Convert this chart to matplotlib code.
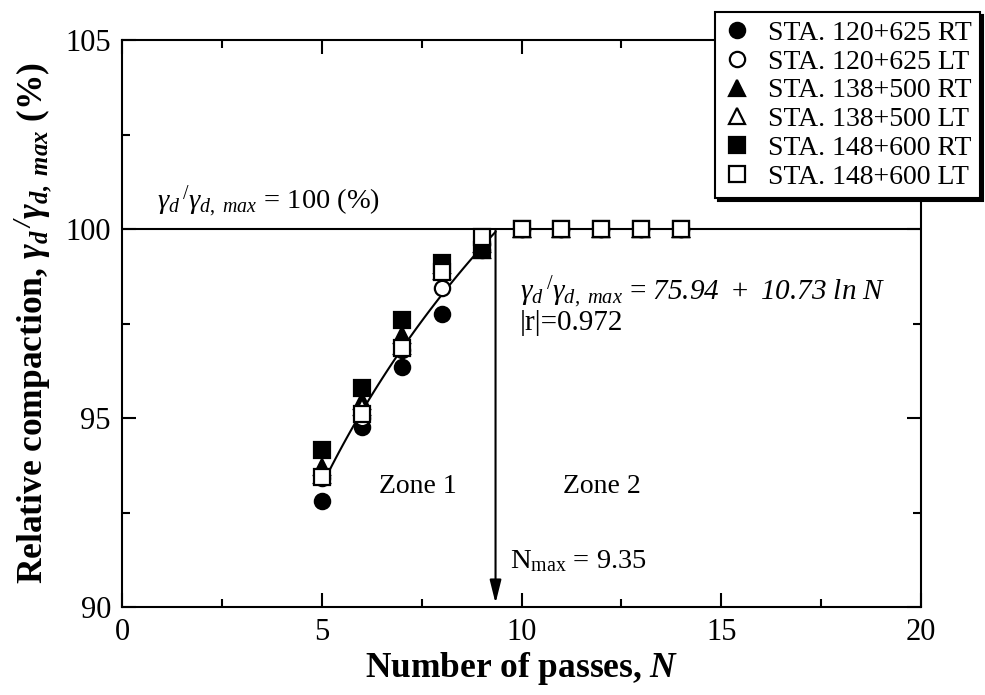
import numpy as np
import matplotlib
matplotlib.use("Agg")
import matplotlib.pyplot as plt

plt.rcParams['font.family'] = ['Liberation Serif', 'DejaVu Serif']
plt.rcParams['mathtext.fontset'] = 'custom'
plt.rcParams['mathtext.rm'] = 'Liberation Serif'
plt.rcParams['mathtext.it'] = 'Liberation Serif:italic'
plt.rcParams['mathtext.sf'] = 'Liberation Serif:italic'
plt.rcParams['mathtext.bf'] = 'Liberation Serif:bold'
plt.rcParams['mathtext.bfit'] = 'Liberation Serif:bold:italic'

# passes and relative compaction (%) per station
passes = [5, 6, 7, 8, 9, 10, 11, 12, 13, 14]
sta120_rt = [92.8, 94.75, 96.35, 97.75, 99.45, 100, 100, 100, 100, 100]
sta120_lt = [93.4, 95.0, 96.8, 98.45, 99.6, 100, 100, 100, 100, 100]
sta138_rt = [93.7, 95.45, 97.2, 99.05, 99.45, 100, 100, 100, 100, 100]
sta138_lt = [93.5, 95.3, 96.9, 98.9, 99.6, 100, 100, 100, 100, 100]
sta148_rt = [94.15, 95.8, 97.6, 99.1, 99.45, 100, 100, 100, 100, 100]
sta148_lt = [93.45, 95.1, 96.85, 98.85, 99.8, 100, 100, 100, 100, 100]

labels = ['STA. 120+625 RT', 'STA. 120+625 LT', 'STA. 138+500 RT',
          'STA. 138+500 LT', 'STA. 148+600 RT', 'STA. 148+600 LT']
series = [sta120_rt, sta120_lt, sta138_rt, sta138_lt, sta148_rt, sta148_lt]
markers = ['o', 'o', '^', '^', 's', 's']
filled = [True, False, True, False, True, False]

# fitted relation
a, b = 75.94, 10.73
n_max = 9.35

fig = plt.figure(figsize=(9.85, 6.95), dpi=100)
ax = fig.add_axes([122 / 985, 1 - 607 / 695, (921 - 122) / 985, (607 - 40) / 695])

ax.axhline(100, color='black', lw=1.5, zorder=1)

n_fit = np.linspace(passes[0], n_max, 50)
ax.plot(n_fit, a + b * np.log(n_fit), color='black', lw=1.5, zorder=2)

ax.annotate('', xy=(n_max, 90.1), xytext=(n_max, 100),
            arrowprops=dict(arrowstyle='-|>,head_width=0.35,head_length=1.4',
                            color='black', lw=1.5, shrinkA=0, shrinkB=0))

for y, m, f, lab in zip(series, markers, filled, labels):
    ax.plot(passes, y, linestyle='none', marker=m, markersize=11,
            markerfacecolor='black' if f else 'white',
            markeredgecolor='black', markeredgewidth=1.6, label=lab, zorder=3)

ax.text(0.88, 100.75, r'$\gamma_d\,{}^/\gamma_{d,\ max}$ = 100 (%)', fontsize=20.5,
        va='center')
ax.text(9.95, 98.32,
        r'$\gamma_d\,{}^/\gamma_{d,\ max}$ = $\mathsf{75.94\ +\ 10.73\ ln\ N}$',
        fontsize=21, va='center')
ax.text(9.95, 97.5, '|r|=0.972', fontsize=21, va='center')
ax.text(7.4, 93.2, 'Zone 1', fontsize=20, ha='center', va='center')
ax.text(12.0, 93.2, 'Zone 2', fontsize=20, ha='center', va='center')
ax.text(9.7, 91.2, r'N$_{\mathrm{max}}$ = 9.35', fontsize=20.5, va='center')

ax.set_xlim(0, 20)
ax.set_ylim(90, 105)
ax.set_xticks([0, 5, 10, 15, 20])
ax.set_yticks([90, 95, 100, 105])
ax.set_xticks(np.arange(0, 20.1, 2.5), minor=True)
ax.set_yticks(np.arange(90, 105.1, 2.5), minor=True)
ax.tick_params(which='both', direction='in', top=True, right=True, labelsize=22,
               width=1.5, pad=8)
ax.tick_params(which='major', length=10)
ax.tick_params(which='minor', length=6)
for s in ax.spines.values():
    s.set_linewidth(1.5)

ax.set_xlabel(r'Number of passes, $\mathbfit{N}$', fontsize=25.5, fontweight='bold',
              labelpad=2)
ax.set_ylabel(r'Relative compaction, $\mathbfit{\gamma_d\,{}^/\gamma_{d,\ max}}$ (%)',
              fontsize=25.5, fontweight='bold', labelpad=8)

leg = ax.legend(loc='upper right', bbox_to_anchor=(980 / 985, 1 - 12 / 695),
                bbox_transform=fig.transFigure, fontsize=20, frameon=True,
                fancybox=False, shadow={'color': 'black', 'alpha': 1},
                borderpad=0.3, labelspacing=0.12, handletextpad=0.6,
                handlelength=1.0, borderaxespad=0)
leg.get_frame().set_edgecolor('black')
leg.get_frame().set_linewidth(1.5)
leg.set_zorder(10)

fig.savefig('out.png', dpi=100)
